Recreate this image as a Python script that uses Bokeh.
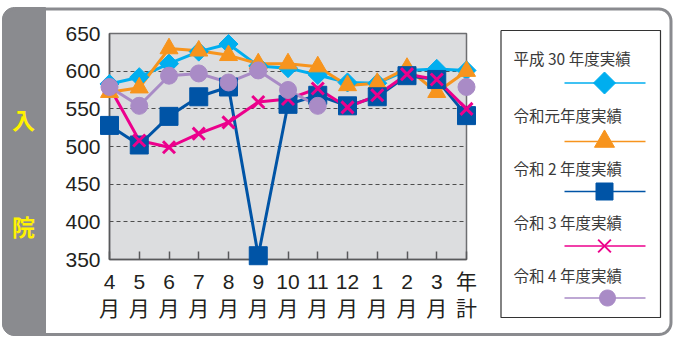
import math
from bokeh.plotting import figure
from bokeh.models import Range1d, FixedTicker
from bokeh.core.properties import value
from bokeh.embed import file_html
from bokeh.resources import INLINE

nan = float("nan")

# ---- data ----
months = ["4", "5", "6", "7", "8", "9", "10", "11", "12", "1", "2", "3"]
tick_labels = [m + "\n月" for m in months] + ["年\n計"]
y_ticks = [350, 400, 450, 500, 550, 600, 650]
series_names = ["平成 30 年度実績", "令和元年度実績", "令和 2 年度実績",
                "令和 3 年度実績", "令和 4 年度実績"]
h30 = [583, 592, 610, 626, 636, 607, 604, 595, 585, 584, 601, 603, 601]
r1 = [572, 578, 630, 627, 621, 610, 610, 606, 581, 584, 604, 572, 600]
r2 = [528, 502, 540, 566, 579, 355, 556, 568, 554, 566, 594, 589, 541]
r3 = [579, 508, 499, 517, 532, 559, 563, 577, 552, 568, 596, 589, 550]
r4 = [579, 554, 594, 597, 585, 601, 575, 554, nan, nan, nan, nan, 579]
side_labels = ["入", "院"]

values = [h30, r1, r2, r3, r4]
xs = list(range(len(tick_labels)))

# ---- styles ----
styles = [
    dict(color="#00AEEF", marker="square", size=13.5, angle=math.pi / 4, mlw=1, shape="diamond", lsize=22),
    dict(color="#F7941D", marker="triangle", size=18, angle=0, mlw=1, shape="triangle", lsize=20),
    dict(color="#0054A6", marker="square", size=18, angle=0, mlw=1, shape="square", lsize=17),
    dict(color="#EC008C", marker="x", size=17, angle=0, mlw=3, shape="x", lsize=17),
    dict(color="#A98BC6", marker="circle", size=17, angle=0, mlw=1, shape="circle", lsize=16),
]

FL, FR, FT, FB = 109, 466, 33, 259
W, H = 674, 338

p = figure(width=W, height=H, x_range=Range1d(0, 12), y_range=Range1d(350, 650),
           output_backend="svg", toolbar_location=None,
           min_border_left=FL, min_border_right=W - FR,
           min_border_top=FT, min_border_bottom=H - FB)
# pixel-space ranges (y downward) for decorations outside the frame
p.extra_x_ranges = {"px": Range1d(FL, FR)}
p.extra_y_ranges = {"py": Range1d(FB, FT)}
PX = dict(x_range_name="px", y_range_name="py", level="overlay")

p.background_fill_color = "#DCDDDF"
p.border_fill_color = "white"
p.outline_line_color = "#6D6E71"
p.outline_line_width = 1.5

p.xgrid.visible = False
p.ygrid.grid_line_color = "#4D4D4D"
p.ygrid.grid_line_dash = "4 3"
p.ygrid.grid_line_width = 1.2

lab_font = "'Liberation Sans', 'Noto Sans CJK JP'"
p.yaxis.ticker = FixedTicker(ticks=y_ticks)
p.yaxis.major_tick_in = 0
p.yaxis.major_tick_out = 0
p.yaxis.minor_tick_line_color = None
p.yaxis.major_label_standoff = 9
p.xaxis.ticker = FixedTicker(ticks=xs)
p.xaxis.major_label_overrides = {i: t for i, t in enumerate(tick_labels)}
p.xaxis.major_tick_in = 8
p.xaxis.major_tick_out = 0
p.xaxis.minor_tick_line_color = None
p.xaxis.major_label_standoff = 10
for ax in (p.xaxis, p.yaxis):
    ax.axis_line_color = "#58595B"
    ax.axis_line_width = 1.5
    ax.major_tick_line_color = "#58595B"
    ax.major_tick_line_width = 1.5
    ax.major_label_text_font = lab_font
    ax.major_label_text_font_size = "21px"
    ax.major_label_text_color = "#231F20"


def rounded_rect(l, t, r, b, rtl, rtr, rbr, rbl, n=10):
    px, py = [], []

    def arc(cx, cy, rad, a0, a1):
        if rad == 0:
            px.append(cx); py.append(cy)
            return
        for k in range(n + 1):
            a = a0 + (a1 - a0) * k / n
            px.append(cx + rad * math.cos(a)); py.append(cy + rad * math.sin(a))
    arc(l + rtl, t + rtl, rtl, math.pi, 1.5 * math.pi)
    arc(r - rtr, t + rtr, rtr, 1.5 * math.pi, 2 * math.pi)
    arc(r - rbr, b - rbr, rbr, 0, 0.5 * math.pi)
    arc(l + rbl, b - rbl, rbl, 0.5 * math.pi, math.pi)
    return px, py


# ---- decorations ----
sx, sy = rounded_rect(2, 7, 45, 335, 12, 0, 0, 12)
p.patch(sx, sy, fill_color="#8A8B8F", line_color="#8A8B8F", line_width=1, **PX)
ox, oy = rounded_rect(3, 8.5, 670.5, 334, 12, 12, 12, 12)
p.line(ox + [ox[0]], oy + [oy[0]], line_color="#8A8B8F", line_width=3, **PX)
p.line([500.5, 660, 660, 500.5, 500.5], [30, 30, 317, 317, 30],
       line_color="#333333", line_width=1.2, **PX)

p.text(x=[23, 23], y=[118, 225], text=side_labels,
       text_font=value("Noto Sans CJK JP"), text_font_style="bold",
       text_font_size="23px", text_color="#FFF200",
       text_align="center", text_baseline="middle", **PX)

# ---- data series ----
for i in range(5):
    st = styles[i]
    p.line(xs, values[i], line_color=st["color"], line_width=3, level="overlay")
for i in range(5):
    st = styles[i]
    p.scatter(xs, values[i], marker=st["marker"], size=st["size"], angle=st["angle"],
              fill_color=st["color"], line_color=st["color"], line_width=st["mlw"],
              level="overlay")

# ---- legend ----
leg_text_y = [57, 114, 167, 221, 274]
leg_line_y = [82.5, 141, 191, 245.5, 297.5]
p.text(x=[513] * 5, y=leg_text_y, text=series_names,
       text_font=value("Noto Sans CJK JP"), text_font_size="15.5px",
       text_color="#3A3A3A", text_align="left", text_baseline="middle", **PX)
mx = 604
for i in range(5):
    st = styles[i]
    cy = leg_line_y[i]
    c = st["color"]
    p.line([564, 645], [cy, cy], line_color=c, line_width=1.6, **PX)
    s = st["lsize"] / 2
    shape = st["shape"]
    if shape == "diamond":
        p.patch([mx - s, mx, mx + s, mx], [cy, cy - s, cy, cy + s], fill_color=c, line_color=c, **PX)
    elif shape == "triangle":
        h = s * math.sqrt(3)
        p.patch([mx - s, mx + s, mx], [cy + h / 3, cy + h / 3, cy - 2 * h / 3], fill_color=c, line_color=c, **PX)
    elif shape == "square":
        p.patch([mx - s, mx + s, mx + s, mx - s], [cy - s, cy - s, cy + s, cy + s], fill_color=c, line_color=c, **PX)
    elif shape == "x":
        p.line([mx - s * 0.75, mx + s * 0.75], [cy - s * 0.75, cy + s * 0.75], line_color=c, line_width=2, **PX)
        p.line([mx - s * 0.75, mx + s * 0.75], [cy + s * 0.75, cy - s * 0.75], line_color=c, line_width=2, **PX)
    else:
        ang = [2 * math.pi * k / 32 for k in range(32)]
        p.patch([mx + 3 + s * math.cos(a) for a in ang], [cy + s * math.sin(a) for a in ang],
                fill_color=c, line_color=c, **PX)

open("out.html", "w").write(file_html(p, INLINE))
